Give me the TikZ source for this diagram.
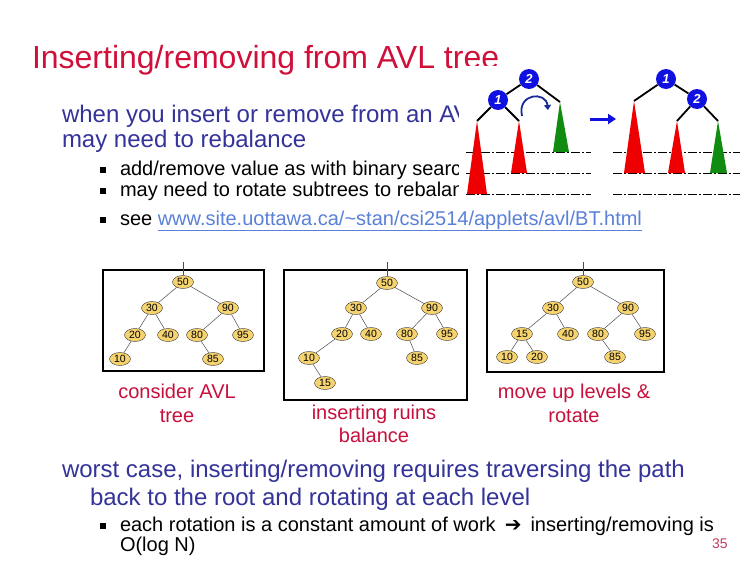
\documentclass[tikz,border=0pt]{standalone}
\usepackage{fontspec}
\setmainfont{Liberation Sans}
\newfontfamily\djv{DejaVu Sans}
\usetikzlibrary{shapes.geometric,arrows.meta}
\definecolor{titlered}{HTML}{D0103A}
\definecolor{bodyblue}{HTML}{333399}
\definecolor{capred}{HTML}{C8103C}
\definecolor{linkblue}{HTML}{5A80D8}
\definecolor{nodefill}{HTML}{F5D36E}
\definecolor{rotblue}{HTML}{1010E0}
\definecolor{arcblue}{HTML}{1A2A99}
\definecolor{trired}{HTML}{EE0000}
\definecolor{trigreen}{HTML}{108C10}
\definecolor{pagered}{HTML}{C04060}
\newcommand{\fsz}[1]{\fontsize{#1}{#1}\selectfont}
\tikzset{
  txt/.style={anchor=base west, inner sep=0pt, outer sep=0pt},
  bul/.style={rectangle, fill=black, minimum size=5.5pt, inner sep=0pt},
  tn/.style={ellipse, draw=black!80, fill=nodefill, minimum width=21pt, minimum height=13pt, inner sep=0pt, font=\fsz{10.5}},
  te/.style={draw=black!70, line width=0.5pt},
  treebox/.style={draw=black, line width=2pt},
  captxt/.style={anchor=base, inner sep=0pt, text=capred, font=\fsz{20}},
  rn/.style={circle, fill=rotblue, minimum size=20pt, inner sep=0pt, text=white, font=\bfseries\itshape\fsz{13}},
  rl/.style={draw=black, line width=1.8pt},
  dl/.style={draw=black, line width=0.7pt, dash pattern=on 9pt off 2pt on 2pt off 2pt},
}
\begin{document}
\begin{tikzpicture}[x=1pt,y=-1pt]
\useasboundingbox (0,0) rectangle (756,576);
\fill[white] (0,0) rectangle (756,576);

% title and upper text
\node[txt, text=titlered, font=\fsz{32}] (title) at (32,68) {Inserting/removing from AVL tree};
\node[txt, text=bodyblue, font=\fsz{24}] (l1) at (62,122) {when you insert or remove from an AV};
\node[txt, text=bodyblue, font=\fsz{24}] (l2) at (62,147) {may need to rebalance};
\node[bul] (b1) at (103,170) {};
\node[txt, font=\fsz{20}] (t1) at (120,175) {add/remove value as with binary search};
\node[bul] (b2) at (103,191) {};
\node[txt, font=\fsz{20}] (t2) at (120,196) {may need to rotate subtrees to rebalance};
\node[bul] (b3) at (103,220) {};
\node[txt, font=\fsz{20}] (t3) at (120,225) {see \textcolor{linkblue}{\underline{www.site.uottawa.ca/{\char`\~}stan/csi2514/applets/avl/BT.html}}};

% rotation figure (opaque white background)
\fill[white] (459,66) rectangle (756,198);
\foreach \yy in {152,173,194} {\draw[dl] (466,\yy) -- (591,\yy);}
\foreach \yy in {152,173,194} {\draw[dl] (613,\yy) -- (740,\yy);}
\coordinate (Lga) at (560,102);
\coordinate (Lra) at (477,121);
\coordinate (Lrb) at (519,121);
\fill[trired] (Lra) -- (467,194) -- (487,194) -- cycle;
\fill[trired] (Lrb) -- (511,173) -- (527,173) -- cycle;
\fill[trigreen] (Lga) -- (553,152) -- (569,152) -- cycle;
\node[rn] (L2) at (529,79) {2};
\node[rn] (L1) at (498,100) {1};
\draw[rl] (L2) -- (Lga);
\draw[rl] (L2) -- (L1);
\draw[rl] (L1) -- (Lra);
\draw[rl] (L1) -- (Lrb);
\coordinate (ca) at (522,116);
\coordinate (cb) at (548,110);
\draw[arcblue, line width=1.8pt, -{Triangle[length=5pt,width=7pt]}] (ca) .. controls (517,93) and (546,91) .. (cb);
\coordinate (arrA) at (590,119);
\coordinate (arrB) at (616,119);
\draw[rotblue, line width=3pt, -{Triangle[length=8pt,width=10pt]}] (arrA) -- (arrB);
\coordinate (Rra) at (634,101);
\coordinate (Rrb) at (677,121);
\coordinate (Rga) at (718,121);
\fill[trired] (Rra) -- (624,173) -- (645,173) -- cycle;
\fill[trired] (Rrb) -- (668,173) -- (685,173) -- cycle;
\fill[trigreen] (Rga) -- (710,173) -- (727,173) -- cycle;
\node[rn] (R1) at (666,79) {1};
\node[rn] (R2) at (697,99) {2};
\draw[rl] (R1) -- (Rra);
\draw[rl] (R1) -- (R2);
\draw[rl] (R2) -- (Rrb);
\draw[rl] (R2) -- (Rga);

% tree boxes
\draw[treebox] (103,270) rectangle (264,371);
\draw[treebox] (284,270) rectangle (467,400);
\draw[treebox] (487,270) rectangle (664,372);

% tree 1
\node[tn] (a50) at (183,282) {50};
\node[tn] (a30) at (152,308) {30};
\node[tn] (a90) at (228,308) {90};
\node[tn] (a20) at (135,335) {20};
\node[tn] (a40) at (168,335) {40};
\node[tn] (a80) at (197,335) {80};
\node[tn] (a95) at (243,335) {95};
\node[tn] (a10) at (120,359) {10};
\node[tn] (a85) at (213,359) {85};
\coordinate (aup) at (183,262);
\draw[te] (a50) -- (aup);
\draw[te] (a50) -- (a30); \draw[te] (a50) -- (a90);
\draw[te] (a30) -- (a20); \draw[te] (a30) -- (a40);
\draw[te] (a90) -- (a80); \draw[te] (a90) -- (a95);
\draw[te] (a20) -- (a10); \draw[te] (a80) -- (a85);

% tree 2
\node[tn] (b50) at (387,283) {50};
\node[tn] (b30) at (356,308) {30};
\node[tn] (b90) at (432,308) {90};
\node[tn] (b20) at (342,334) {20};
\node[tn] (b40) at (371,334) {40};
\node[tn] (b80) at (407,334) {80};
\node[tn] (b95) at (447,334) {95};
\node[tn] (b10) at (309,358) {10};
\node[tn] (b85) at (417,358) {85};
\node[tn] (b15) at (325,383) {15};
\coordinate (bup) at (387,262);
\draw[te] (b50) -- (bup);
\draw[te] (b50) -- (b30); \draw[te] (b50) -- (b90);
\draw[te] (b30) -- (b20); \draw[te] (b30) -- (b40);
\draw[te] (b90) -- (b80); \draw[te] (b90) -- (b95);
\draw[te] (b20) -- (b10); \draw[te] (b80) -- (b85);
\draw[te] (b10) -- (b15);

% tree 3
\node[tn] (c50) at (583,282) {50};
\node[tn] (c30) at (553,308) {30};
\node[tn] (c90) at (628,308) {90};
\node[tn] (c15) at (522,334) {15};
\node[tn] (c40) at (568,334) {40};
\node[tn] (c80) at (598,334) {80};
\node[tn] (c95) at (645,334) {95};
\node[tn] (c10) at (507,357) {10};
\node[tn] (c20) at (537,357) {20};
\node[tn] (c85) at (615,357) {85};
\coordinate (cup) at (583,262);
\draw[te] (c50) -- (cup);
\draw[te] (c50) -- (c30); \draw[te] (c50) -- (c90);
\draw[te] (c30) -- (c15); \draw[te] (c30) -- (c40);
\draw[te] (c90) -- (c80); \draw[te] (c90) -- (c95);
\draw[te] (c15) -- (c10); \draw[te] (c15) -- (c20);
\draw[te] (c80) -- (c85);

% captions
\node[captxt] (cap1a) at (177,398) {consider AVL};
\node[captxt] (cap1b) at (177,422) {tree};
\node[captxt] (cap2a) at (374,419) {inserting ruins};
\node[captxt] (cap2b) at (374,442) {balance};
\node[captxt] (cap3a) at (574,398) {move up levels \&};
\node[captxt] (cap3b) at (574,422) {rotate};

% bottom text
\node[txt, text=bodyblue, font=\fsz{24}] (w1) at (62,477) {worst case, inserting/removing requires traversing the path};
\node[txt, text=bodyblue, font=\fsz{24}] (w2) at (90,505) {back to the root and rotating at each level};
\node[bul] (b4) at (103,526) {};
\node[txt, font=\fsz{20}] (w3) at (120,531) {each rotation is a constant amount of work\hspace{9pt}{\djv\fsz{20}➔}\hspace{9pt}inserting/removing is};
\node[txt, font=\fsz{20}] (w4) at (120,551) {O(log N)};
\node[txt, text=pagered, font=\fsz{14}] (pg) at (712,548) {35};
\end{tikzpicture}
\end{document}
